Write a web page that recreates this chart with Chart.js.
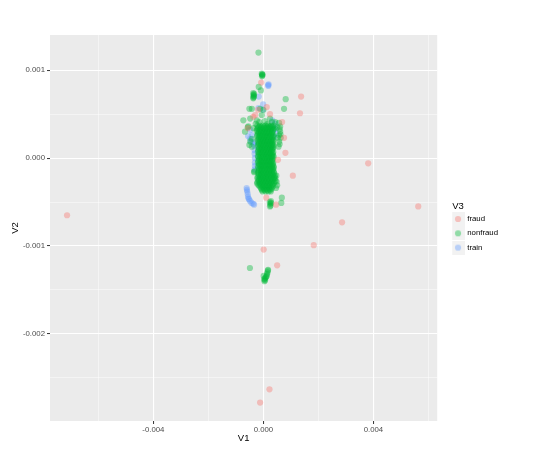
<!DOCTYPE html>
<html>
<head>
<meta charset="utf-8">
<script src="https://cdn.jsdelivr.net/npm/chart.js@4.4.1/dist/chart.umd.min.js"></script>
<style>
  html, body { margin: 0; padding: 0; background: #ffffff; }
  canvas { display: block; }
</style>
</head>
<body>
<canvas id="scatterChart" width="536" height="461"></canvas>
<script>
// Tick positions
var xMajorTicks = [-0.004, 0, 0.004];
var xMinorTicks = [-0.006, -0.002, 0.002, 0.006];
var yMajorTicks = [-0.002, -0.001, 0, 0.001];
var yMinorTicks = [-0.0025, -0.0015, -0.0005, 0.0005];

var groups = ["fraud", "nonfraud", "train"];

// V3 = fraud  [V1, V2]
var fraudPoints = [
  [-0.00714, -0.00065], [0.00563, -0.00055], [0.00381, -0.00006], [0.00286, -0.00073],
  [0.00183, -0.00099], [0.00001, -0.00104], [0.00050, -0.00122], [0.00046, -0.00053],
  [0.00022, -0.00263], [-0.00012, -0.00278], [-0.00008, 0.00086], [0.00137, 0.00070],
  [0.00133, 0.00051], [0.00012, 0.00058], [0.00075, 0.00023], [0.00080, 0.00006],
  [0.00053, -0.00002], [0.00107, -0.00020], [0.00010, -0.00045], [0.00024, 0.00050],
  [-0.00037, 0.00047], [0.00068, 0.00041], [-0.00056, 0.00034], [-0.00019, 0.00055],
  [-0.00030, 0.00049]
];

// V3 = nonfraud, scattered points
var nonfraudPoints = [
  [-0.00018, 0.00120],
  [-0.00005, 0.00095], [-0.00004, 0.00094], [-0.00006, 0.00096], [-0.00005, 0.00093], [-0.00003, 0.00095],
  [-0.00017, 0.00081], [-0.00009, 0.00077],
  [-0.00037, 0.00074], [-0.00036, 0.00072], [-0.00035, 0.00070], [-0.00037, 0.00068],
  [-0.00034, 0.00073], [-0.00036, 0.00069], [-0.00035, 0.00071],
  [0.00081, 0.00067], [0.00075, 0.00056],
  [-0.00042, 0.00056], [-0.00012, 0.00056], [0.00000, 0.00055], [-0.00048, 0.00045],
  [-0.00073, 0.00043], [-0.00024, 0.00043], [-0.00006, 0.00049], [0.00024, 0.00045],
  [0.00043, 0.00041], [0.00031, 0.00041], [-0.00055, 0.00036], [-0.00067, 0.00030],
  [-0.00036, 0.00034], [-0.00048, 0.00019], [-0.00042, 0.00013], [-0.00051, 0.00015],
  [-0.00042, 0.00022], [-0.00057, 0.00035], [-0.00051, 0.00056],
  [-0.00015, 0.00041], [0.00005, 0.00042], [0.00015, 0.00039], [-0.00028, 0.00039],
  [-0.00034, -0.00016], [-0.00033, -0.00015],
  [0.00057, 0.00040], [0.00061, 0.00036], [0.00059, 0.00033], [0.00061, 0.00030],
  [0.00057, 0.00026], [0.00063, 0.00023], [0.00057, 0.00019], [0.00059, 0.00016],
  [0.00055, 0.00013], [0.00050, 0.00035], [0.00052, 0.00023], [0.00062, 0.00027],
  [0.00043, -0.00023], [0.00048, -0.00027], [0.00050, -0.00031], [0.00046, -0.00034], [0.00047, -0.00020],
  [0.00023, -0.00050], [0.00025, -0.00052], [0.00026, -0.00054], [0.00028, -0.00051],
  [0.00024, -0.00055], [0.00027, -0.00049],
  [0.00067, -0.00045], [0.00065, -0.00051],
  [-0.00049, -0.00125],
  [0.00017, -0.00127], [0.00015, -0.00130], [0.00013, -0.00132], [0.00012, -0.00134],
  [0.00008, -0.00136], [0.00006, -0.00139], [0.00004, -0.00140], [0.00003, -0.00138],
  [0.00001, -0.00134], [0.00016, -0.00128], [0.00010, -0.00135], [0.00005, -0.00137]
];

// V3 = nonfraud, dense core: [V2, [V1 values]]
var nonfraudCoreRows = [
  [0.00037, [-0.00022, -0.00012, -0.00002, 0.00008, 0.00018, 0.00028, 0.00037]],
  [0.000355, [-0.00017, -0.00007, 0.00003, 0.00013, 0.00023, 0.00033]],
  [0.00034, [-0.00020, -0.00010, 0.00000, 0.00010, 0.00019, 0.00030, 0.00040]],
  [0.000325, [-0.00023, -0.00013, -0.00003, 0.00007, 0.00017, 0.00027, 0.00037]],
  [0.00031, [-0.00025, -0.00015, -0.00005, 0.00005, 0.00014, 0.00024, 0.00034]],
  [0.000295, [-0.00018, -0.00008, 0.00002, 0.00012, 0.00022, 0.00032]],
  [0.00028, [-0.00019, -0.00009, 0.00001, 0.00011, 0.00021, 0.00031]],
  [0.000265, [-0.00022, -0.00012, -0.00002, 0.00008, 0.00018, 0.00028, 0.00036]],
  [0.00025, [-0.00023, -0.00013, -0.00003, 0.00007, 0.00016, 0.00026, 0.00036]],
  [0.000235, [-0.00017, -0.00007, 0.00003, 0.00013, 0.00023, 0.00033]],
  [0.00022, [-0.00018, -0.00008, 0.00002, 0.00012, 0.00022, 0.00032]],
  [0.000205, [-0.00021, -0.00011, -0.00001, 0.00009, 0.00019, 0.00029, 0.00036]],
  [0.00019, [-0.00021, -0.00011, -0.00001, 0.00008, 0.00018, 0.00028, 0.00035]],
  [0.000175, [-0.00016, -0.00006, 0.00004, 0.00014, 0.00024, 0.00033]],
  [0.00016, [-0.00017, -0.00007, 0.00003, 0.00013, 0.00023, 0.00033]],
  [0.000145, [-0.00020, -0.00010, 0.00000, 0.00010, 0.00020, 0.00030, 0.00036]],
  [0.00013, [-0.00020, -0.00010, 0.00000, 0.00009, 0.00019, 0.00029, 0.00037]],
  [0.000115, [-0.00015, -0.00005, 0.00005, 0.00015, 0.00025, 0.00034]],
  [0.00010, [-0.00016, -0.00006, 0.00004, 0.00014, 0.00024, 0.00033]],
  [0.000085, [-0.00019, -0.00009, 0.00001, 0.00011, 0.00021, 0.00031]],
  [0.00007, [-0.00020, -0.00011, -0.00001, 0.00009, 0.00018, 0.00028, 0.00036]],
  [0.000055, [-0.00016, -0.00006, 0.00004, 0.00014, 0.00024, 0.00034]],
  [0.00004, [-0.00015, -0.00005, 0.00005, 0.00014, 0.00024, 0.00032]],
  [0.000025, [-0.00020, -0.00010, 0.00000, 0.00010, 0.00020, 0.00030, 0.00036]],
  [0.00001, [-0.00019, -0.00010, 0.00000, 0.00010, 0.00019, 0.00029, 0.00037]],
  [-0.000005, [-0.00015, -0.00005, 0.00005, 0.00015, 0.00024, 0.00033]],
  [-0.00002, [-0.00016, -0.00006, 0.00004, 0.00014, 0.00023, 0.00033]],
  [-0.000035, [-0.00019, -0.00009, 0.00001, 0.00011, 0.00021, 0.00031]],
  [-0.00005, [-0.00020, -0.00010, -0.00001, 0.00009, 0.00018, 0.00028, 0.00036]],
  [-0.000065, [-0.00016, -0.00006, 0.00004, 0.00014, 0.00024, 0.00034]],
  [-0.00008, [-0.00015, -0.00005, 0.00005, 0.00015, 0.00024, 0.00033]],
  [-0.000095, [-0.00020, -0.00010, 0.00000, 0.00010, 0.00020, 0.00030, 0.00037]],
  [-0.00011, [-0.00019, -0.00009, 0.00001, 0.00010, 0.00020, 0.00030, 0.00038]],
  [-0.000125, [-0.00015, -0.00005, 0.00005, 0.00015, 0.00025, 0.00035]],
  [-0.00014, [-0.00016, -0.00006, 0.00004, 0.00014, 0.00024, 0.00034]],
  [-0.000155, [-0.00019, -0.00009, 0.00001, 0.00011, 0.00021, 0.00031, 0.00038]],
  [-0.00017, [-0.00020, -0.00010, 0.00000, 0.00010, 0.00019, 0.00029, 0.00039]],
  [-0.000185, [-0.00016, -0.00006, 0.00004, 0.00014, 0.00024, 0.00035]],
  [-0.00020, [-0.00017, -0.00007, 0.00003, 0.00013, 0.00023, 0.00033, 0.00042]],
  [-0.000215, [-0.00021, -0.00011, -0.00001, 0.00009, 0.00019, 0.00029, 0.00040]],
  [-0.00023, [-0.00022, -0.00012, -0.00002, 0.00008, 0.00018, 0.00028, 0.00038]],
  [-0.000245, [-0.00017, -0.00007, 0.00003, 0.00013, 0.00023, 0.00034]],
  [-0.00026, [-0.00018, -0.00008, 0.00002, 0.00012, 0.00022, 0.00032, 0.00044]],
  [-0.000275, [-0.00022, -0.00012, -0.00002, 0.00008, 0.00018, 0.00028, 0.00040]],
  [-0.00029, [-0.00023, -0.00013, -0.00003, 0.00007, 0.00017, 0.00027, 0.00037]],
  [-0.000305, [-0.00018, -0.00008, 0.00002, 0.00012, 0.00022, 0.00032]],
  [-0.00032, [-0.00014, -0.00004, 0.00006, 0.00016, 0.00026, 0.00035]],
  [-0.000335, [-0.00010, 0.00000, 0.00010, 0.00020, 0.00030]],
  [-0.00035, [-0.00008, 0.00002, 0.00012, 0.00022, 0.00030]],
  [-0.000365, [-0.00005, 0.00005, 0.00015, 0.00025]],
  [-0.00038, [-0.00003, 0.00008, 0.00018, 0.00027]]
];

// V3 = train
var trainPoints = [
  [0.00017, 0.00083], [0.00019, 0.00084], [0.00018, 0.00082],
  [-0.00017, 0.00070], [-0.00018, 0.00057], [-0.00001, 0.00061], [-0.00002, 0.00055],
  [0.00028, 0.00036], [0.00035, 0.00033], [0.00043, 0.00039], [0.00046, 0.00028],
  [0.00039, 0.00024], [0.00032, 0.00043], [0.00044, 0.00033],
  [-0.00056, 0.00025], [-0.00048, 0.00022], [-0.00041, 0.00026], [-0.00037, 0.00016],
  [-0.00048, 0.00032], [-0.00045, 0.00019],
  [-0.00032, 0.00009], [-0.00032, 0.00005], [-0.00031, 0.00000], [-0.00031, -0.00005],
  [-0.00032, 0.00014], [-0.00031, -0.00009], [-0.00033, 0.00018], [-0.00032, -0.00013],
  [-0.00061, -0.00034], [-0.00059, -0.00038], [-0.00057, -0.00041], [-0.00056, -0.00044],
  [-0.00052, -0.00047], [-0.00048, -0.00049], [-0.00043, -0.00051], [-0.00037, -0.00052],
  [-0.00034, -0.00053], [-0.00060, -0.00036], [-0.00054, -0.00046]
];

var groupRgb = ["248,118,109", "0,186,56", "97,156,255"];
var pointAlpha = 0.4;
var pointSize = 3.1;
var fontFamily = "'Liberation Sans', Arial, Helvetica, sans-serif";

function toXY(list) {
  return list.map(function (p) { return { x: p[0], y: p[1] }; });
}

var nonfraudData = toXY(nonfraudPoints);
nonfraudCoreRows.forEach(function (row) {
  row[1].forEach(function (xv) { nonfraudData.push({ x: xv, y: row[0] }); });
});

function buildTicks(major, minor) {
  var t = major.map(function (v) { return { value: v, minor: false }; })
    .concat(minor.map(function (v) { return { value: v, minor: true }; }));
  t.sort(function (a, b) { return a.value - b.value; });
  return t;
}

// legend key: grey square with a point in it
function makeKey(rgb) {
  var c = document.createElement("canvas");
  c.width = 20; c.height = 14;
  var g = c.getContext("2d");
  g.fillStyle = "#F2F2F2";
  g.fillRect(0, 0, 14, 14);
  g.fillStyle = "rgba(" + rgb + "," + pointAlpha + ")";
  g.beginPath();
  g.arc(7, 7, pointSize, 0, Math.PI * 2);
  g.fill();
  return c;
}
var keyImages = groupRgb.map(makeKey);

var panelBackground = {
  id: "panelBackground",
  beforeDraw: function (chart) {
    var a = chart.chartArea;
    var ctx = chart.ctx;
    ctx.save();
    ctx.fillStyle = "#EBEBEB";
    ctx.fillRect(a.left, a.top, a.right - a.left, a.bottom - a.top);
    ctx.restore();
  }
};

function gridColor(ctx) {
  return ctx.tick && ctx.tick.minor ? "rgba(255,255,255,0.55)" : "#FFFFFF";
}
function gridWidth(ctx) {
  return ctx.tick && ctx.tick.minor ? 0.8 : 1.1;
}
function tickMarkColor(ctx) {
  return ctx.tick && ctx.tick.minor ? "rgba(0,0,0,0)" : "#333333";
}
function tickLabel(value, index, ticks) {
  return ticks[index].minor ? "" : value.toFixed(3);
}

function makeDataset(label, data, i) {
  return {
    label: label,
    data: data,
    pointRadius: pointSize,
    pointBorderWidth: 0,
    pointBackgroundColor: "rgba(" + groupRgb[i] + "," + pointAlpha + ")",
    backgroundColor: "rgba(" + groupRgb[i] + "," + pointAlpha + ")",
    borderColor: "rgba(0,0,0,0)"
  };
}

var ctxS = document.getElementById("scatterChart").getContext("2d");
var myScatter = new Chart(ctxS, {
  type: "scatter",
  plugins: [panelBackground],
  data: {
    datasets: [
      makeDataset(groups[0], toXY(fraudPoints), 0),
      makeDataset(groups[1], nonfraudData, 1),
      makeDataset(groups[2], toXY(trainPoints), 2)
    ]
  },
  options: {
    responsive: false,
    animation: false,
    events: [],
    layout: { padding: { top: 35, right: 28, bottom: 0, left: 0 } },
    scales: {
      x: {
        type: "linear",
        position: "bottom",
        min: -0.00776,
        max: 0.00632,
        afterBuildTicks: function (s) { s.ticks = buildTicks(xMajorTicks, xMinorTicks); },
        afterFit: function (s) { s.height = 40; },
        border: { display: false },
        grid: { color: gridColor, lineWidth: gridWidth, tickColor: tickMarkColor, tickLength: 3, tickWidth: 1 },
        ticks: {
          callback: tickLabel, autoSkip: false, maxRotation: 0, padding: 1,
          color: "#4D4D4D", font: { family: fontFamily, size: 7.8 }
        },
        title: {
          display: true, text: "V1", color: "#000000",
          font: { family: fontFamily, size: 9.5 }, padding: { top: 0, bottom: 17.3 }
        }
      },
      y: {
        type: "linear",
        position: "left",
        min: -0.00299,
        max: 0.0014,
        afterBuildTicks: function (s) { s.ticks = buildTicks(yMajorTicks, yMinorTicks); },
        afterFit: function (s) { s.width = 50; },
        border: { display: false },
        grid: { color: gridColor, lineWidth: gridWidth, tickColor: tickMarkColor, tickLength: 3, tickWidth: 1 },
        ticks: {
          callback: tickLabel, autoSkip: false, padding: 2,
          color: "#4D4D4D", font: { family: fontFamily, size: 7.8 }
        },
        title: {
          display: true, text: "V2", color: "#000000",
          font: { family: fontFamily, size: 9.5 }, padding: { top: 9.3, bottom: 0 }
        }
      },
      // empty gap between the panel and the legend
      gap: {
        type: "linear",
        position: "right",
        display: true,
        grid: { display: false, drawTicks: false },
        ticks: { display: false },
        border: { display: false },
        afterFit: function (s) { s.width = 15; }
      }
    },
    plugins: {
      tooltip: { enabled: false },
      legend: {
        position: "right",
        align: "center",
        fullSize: false,
        title: {
          display: true, text: "V3", color: "#000000", position: "start",
          font: { family: fontFamily, size: 9.5 }, padding: { top: 3.7, bottom: -4.5 }
        },
        labels: {
          usePointStyle: true,
          pointStyleWidth: 4.6,
          padding: 6.5,
          color: "#000000",
          font: { family: fontFamily, size: 7.8 },
          generateLabels: function (chart) {
            return groups.map(function (g, i) {
              return {
                text: g, datasetIndex: i, pointStyle: keyImages[i],
                fillStyle: "rgba(0,0,0,0)", strokeStyle: "rgba(0,0,0,0)",
                lineWidth: 0, hidden: false, fontColor: "#000000"
              };
            });
          }
        }
      }
    }
  }
});
</script>
</body>
</html>
